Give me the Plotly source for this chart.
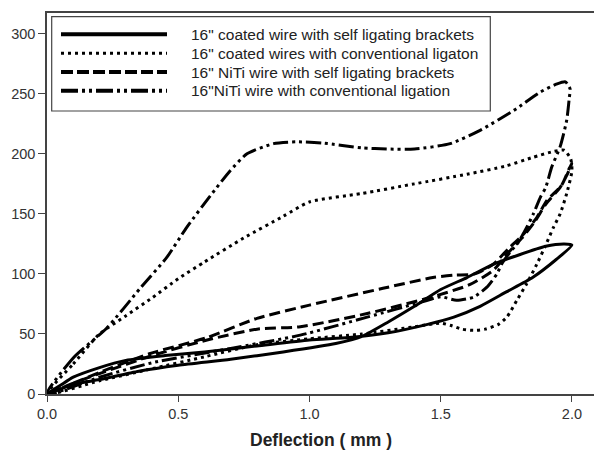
import plotly.graph_objects as go

# ---- data ----
names = [
    '16" coated wire with self ligating brackets',
    '16" coated wires with conventional ligaton',
    '16" NiTi wire with self ligating brackets',
    '16"NiTi wire with conventional ligation',
]

coated_sl_x = [0, 0.05, 0.1, 0.2, 0.3, 0.45, 0.6, 0.8, 1.0, 1.15, 1.3, 1.45, 1.55, 1.65, 1.75, 1.85, 1.94, 2.0,
               1.97, 1.9, 1.8, 1.7, 1.6, 1.5, 1.4, 1.3, 1.2, 1.1, 0.9, 0.7, 0.5, 0.35, 0.2, 0.1, 0]
coated_sl_y = [0, 7, 14, 22, 28, 32, 35, 40, 45, 47, 51, 58, 64, 73, 85, 97, 112, 124,
               125, 123, 116, 108, 97, 87, 73, 60, 48, 42, 35, 29, 24, 19, 12, 8, 0]

coated_conv_x = [0, 0.1, 0.2, 0.3, 0.4, 0.5, 0.6, 0.75, 0.9, 1.0, 1.2, 1.4, 1.6, 1.75, 1.85, 1.93, 1.97, 1.995, 2.0,
                 1.98, 1.955, 1.93, 1.9, 1.866, 1.828, 1.79, 1.752, 1.72, 1.67, 1.625, 1.58, 1.54, 1.5, 1.4, 1.2,
                 1.0, 0.8, 0.6, 0.4, 0.2, 0]
coated_conv_y = [0, 25, 50, 65, 80, 96, 110, 130, 148, 160, 167, 175, 183, 190, 197, 202, 203, 196, 186,
                 167, 150, 139, 124, 108, 92, 78, 64, 58, 54, 53, 54, 57, 59, 56, 50,
                 46, 41, 31, 21, 11, 0]

niti_sl_x = [0, 0.1, 0.2, 0.39, 0.61, 0.8, 1.0, 1.28, 1.47, 1.55, 1.63, 1.7, 1.758, 1.815, 1.866, 1.904, 1.961, 1.99, 2.0,
             1.98, 1.955, 1.9, 1.86, 1.81, 1.755, 1.7, 1.61, 1.47, 1.22, 0.965, 0.8, 0.61, 0.4, 0.2, 0.1, 0]
niti_sl_y = [0, 9, 18, 33.5, 47, 63, 74, 88, 97, 99, 100, 108, 121, 133, 147, 161, 174, 188, 192,
             182, 172, 158, 144, 130, 117, 103, 91, 81, 67, 56, 54, 45, 32, 17, 9, 0]

niti_conv_x = [0, 0.1, 0.228, 0.355, 0.457, 0.533, 0.622, 0.698, 0.762, 0.863, 0.95, 1.05, 1.2, 1.3, 1.4, 1.536,
               1.65, 1.777, 1.88, 1.94, 1.975, 1.993,
               1.99, 1.98, 1.955, 1.923, 1.9, 1.88, 1.853, 1.828, 1.796, 1.764, 1.733, 1.714, 1.676, 1.625, 1.56,
               1.5, 1.45, 1.22, 0.965, 0.7, 0.4, 0.2, 0]
niti_conv_y = [0, 30, 55, 88, 114, 139, 165, 186, 200, 208.5, 210, 209, 205, 204, 204, 208.5,
               219.6, 236, 251.5, 258, 260, 254,
               247, 228, 206, 189, 172, 164, 150, 139, 126.5, 118, 108.5, 100, 89, 80.7, 78,
               81, 78, 64, 49, 38, 26, 14, 0]

x_ticks = [0.0, 0.5, 1.0, 1.5, 2.0]
y_ticks = [0, 50, 100, 150, 200, 250, 300]
x_title = "Deflection ( mm )"

series_x = [coated_sl_x, coated_conv_x, niti_sl_x, niti_conv_x]
series_y = [coated_sl_y, coated_conv_y, niti_sl_y, niti_conv_y]

# ---- styles ----
dashes = ["solid", "3px,4px", "11px,5px", "15px,4px,3px,4px,3px,4px"]
legend_dashes = ["solid", "3px,4px", "12px,4px", "17px,4px,3px,4px,3px,4px"]
widths = [3, 3, 3, 3]
legend_widths = [4, 3, 4, 4]

FONT = "Liberation Sans, Arial, sans-serif"
W, H = 595, 450
ML, MR, MT, MB = 47, 1, 13, 56
PW, PH = W - ML - MR, H - MT - MB


def px_to_paper_x(px):
    return (px - ML) / PW


def px_to_paper_y(py):
    return (H - MB - py) / PH


fig = go.Figure()
for nm, xs, ys, d, w in zip(names, series_x, series_y, dashes, widths):
    fig.add_trace(go.Scatter(
        x=xs, y=ys, mode="lines", name=nm, showlegend=False,
        line=dict(color="black", width=w, dash=d, shape="spline", smoothing=0.6),
    ))

# ---- legend drawn as a boxed key ----
shapes = [dict(
    type="rect", xref="paper", yref="paper",
    x0=px_to_paper_x(51.7), x1=px_to_paper_x(490.3),
    y0=px_to_paper_y(111), y1=px_to_paper_y(16.7),
    line=dict(color="#444", width=1.2), fillcolor="white", layer="above",
)]
annotations = []
row_py = [34.3, 53.3, 72.0, 90.7]
for nm, py, d, w in zip(names, row_py, legend_dashes, legend_widths):
    yp = px_to_paper_y(py)
    shapes.append(dict(
        type="line", xref="paper", yref="paper",
        x0=px_to_paper_x(61), x1=px_to_paper_x(167), y0=yp, y1=yp,
        line=dict(color="black", width=w, dash=d), layer="above",
    ))
    annotations.append(dict(
        xref="paper", yref="paper", x=px_to_paper_x(189), y=yp,
        xanchor="left", yanchor="middle", text=nm, showarrow=False,
        font=dict(family=FONT, size=15.5, color="#222"),
    ))

annotations.append(dict(
    xref="paper", yref="paper", x=0.5, y=px_to_paper_y(440), yanchor="middle",
    text=f"<b>{x_title}</b>", showarrow=False,
    font=dict(family=FONT, size=17.5, color="#222"),
))

fig.update_layout(
    width=W, height=H,
    margin=dict(l=ML, r=MR, t=MT, b=MB),
    paper_bgcolor="white", plot_bgcolor="white",
    font=dict(family=FONT, size=14.5, color="#333"),
    showlegend=False,
    shapes=shapes, annotations=annotations,
)
fig.update_xaxes(
    range=[0, 2.084], tickvals=x_ticks, ticktext=[f"{v:.1f}" for v in x_ticks],
    showgrid=False, zeroline=False, showline=True, linecolor="#444", linewidth=1.5,
    mirror=True, ticks="outside", ticklen=6, tickcolor="#444", tickwidth=1.2,
    tickfont=dict(family=FONT, size=14.5, color="#333"),
)
fig.update_yaxes(
    range=[0, 317.3], tickvals=y_ticks,
    showgrid=False, zeroline=False, showline=True, linecolor="#444", linewidth=1.5,
    ticks="outside", ticklen=7, tickcolor="#444", tickwidth=1.2,
    tickfont=dict(family=FONT, size=14.5, color="#333"),
)

fig.write_html("out.html", config={"displayModeBar": False},
               post_script="document.body.style.margin='0';")
